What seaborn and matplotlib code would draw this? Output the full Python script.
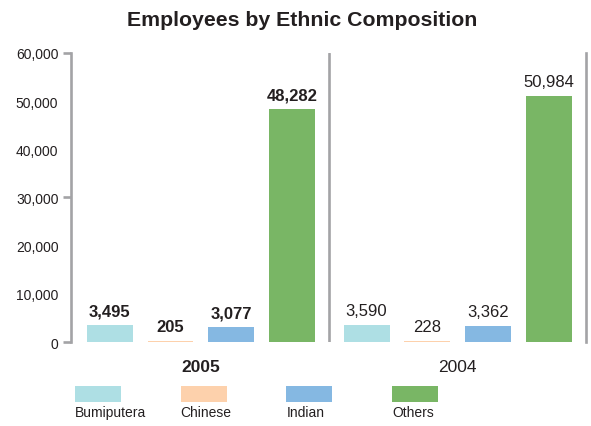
import pandas as pd
import seaborn as sns
import matplotlib.pyplot as plt
from matplotlib.patches import Rectangle

# data
years = ['2005', '2004']
groups = ['Bumiputera', 'Chinese', 'Indian', 'Others']
values_2005 = [3495, 205, 3077, 48282]
values_2004 = [3590, 228, 3362, 50984]
colors = ['#aedfe4', '#fdd1ac', '#85b8e2', '#79b665']
y_ticks = [0, 10000, 20000, 30000, 40000, 50000, 60000]
y_marks = [0, 30000, 60000]

sns.set_style('white')
plt.rcParams['font.family'] = ['Liberation Sans Narrow', 'Liberation Sans', 'DejaVu Sans']

df = pd.DataFrame({
    'year': [years[0]] * len(groups) + [years[1]] * len(groups),
    'group': groups + groups,
    'value': values_2005 + values_2004,
})

grey = '#a3a3a6'
ink = '#231f20'
fig = plt.figure(figsize=(5.91, 4.27), dpi=100)
ax = fig.add_axes([0.120, 0.1967, 0.8715, 0.677])

sns.barplot(data=df, x='year', y='value', hue='group', order=years,
            hue_order=groups, palette=dict(zip(groups, colors)),
            width=0.945, gap=0.242, saturation=1, linewidth=0,
            legend=False, ax=ax)

# value labels, bold for 2005
for cont in ax.containers:
    texts = ax.bar_label(cont, labels=[f'{v:,.0f}' for v in cont.datavalues],
                         padding=5, fontsize=12, color=ink)
    texts[0].set_fontweight('bold')

ax.set_xlim(-0.506, 1.5)
ax.set_ylim(0, 60000)
ax.axvline(0.5, color=grey, lw=1.9)

ax.set_yticks(y_ticks)
ax.set_yticklabels([f'{t:,}' for t in y_ticks], fontsize=10, color=ink)
ax.tick_params(axis='y', which='major', left=True, length=6, width=1.9,
               color=grey, pad=3)
for t, tick in zip(y_ticks, ax.yaxis.get_major_ticks()):
    tick.tick1line.set_visible(t in y_marks)
ax.tick_params(axis='x', length=0, pad=12)
for lbl, w in zip(ax.get_xticklabels(), ['bold', 'normal']):
    lbl.set_fontweight(w)
    lbl.set_fontsize(12.5)
    lbl.set_color(ink)

ax.set_xlabel('')
ax.set_ylabel('')
for side in ['top', 'bottom']:
    ax.spines[side].set_visible(False)
for side in ['left', 'right']:
    ax.spines[side].set_color(grey)
    ax.spines[side].set_linewidth(1.9)

fig.text(0.511, 0.953, 'Employees by Ethnic Composition', ha='center', va='center',
         fontsize=15.3, fontweight='bold', color=ink)

# legend: swatch with name underneath
W, H = 591, 427
for i, (g, c) in enumerate(zip(groups, colors)):
    x0 = 75 + i * 105.7
    fig.patches.append(Rectangle((x0 / W, 1 - 403 / H), 46 / W, 16 / H,
                                 transform=fig.transFigure, color=c, lw=0))
    fig.text(x0 / W, 1 - 406 / H, g, ha='left', va='top', fontsize=10,
             color=ink)

fig.savefig('out.png', dpi=100)
